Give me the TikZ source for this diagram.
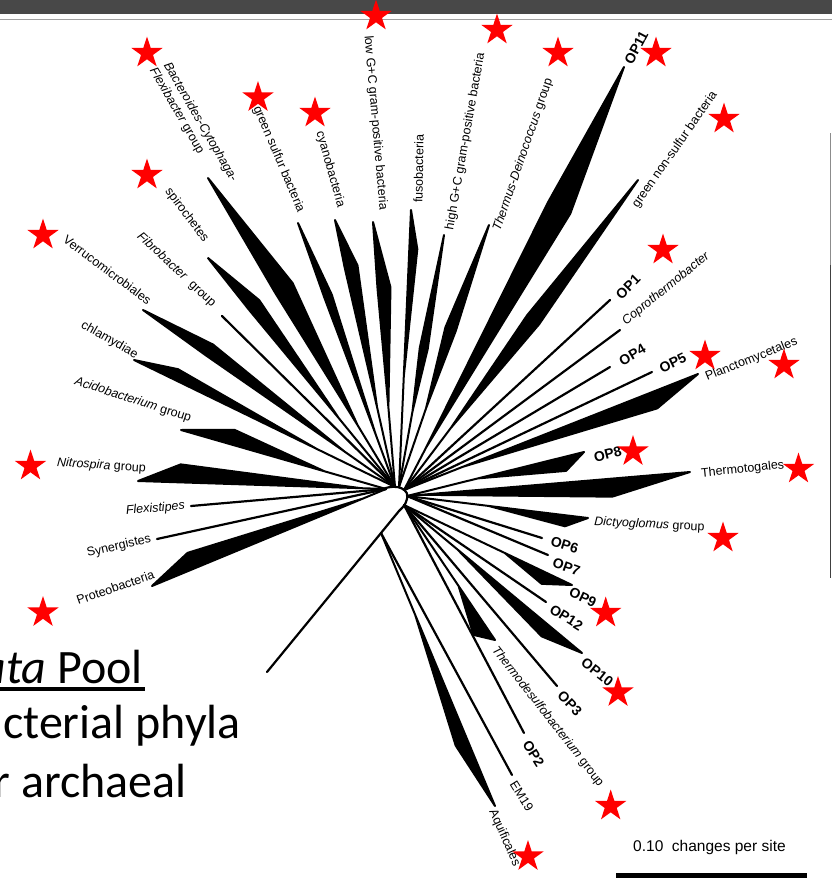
\documentclass[tikz,border=0pt]{standalone}
\usepackage{fontspec}
\setmainfont{Liberation Sans}
\newfontfamily\calibrifont{Carlito}
\usetikzlibrary{calc,shapes.geometric}
\definecolor{hdr}{RGB}{72,72,72}
\definecolor{hdrline}{RGB}{160,160,160}
\definecolor{starred}{RGB}{255,0,0}
% wedge: hub, tip, start-of-widening fraction, shoulder fraction, ccw width, cw width
\newcommand{\wdg}[6]{\filldraw[brwedge] (#1) -- ($(#1)!#3!(#2)$) -- ($(#1)!#4!(#2)!#5pt!90:(#2)$) -- (#2) -- ($(#1)!#4!(#2)!#6pt!-90:(#2)$) -- ($(#1)!#3!(#2)$) -- cycle;}
\begin{document}
\begin{tikzpicture}[x=1pt,y=-1pt,
  brline/.style={line width=2.2pt, line cap=round},
  brwedge/.style={fill=black, draw=black, line width=2pt, line join=round},
  lbl/.style={inner sep=0pt, font=\fontsize{12.5}{14}\selectfont},
  oplbl/.style={inner sep=0pt, font=\fontsize{14}{16}\selectfont\bfseries},
  bigtxt/.style={inner sep=0pt, anchor=base east, font=\calibrifont\fontsize{48}{56}\selectfont},
  redstar/.style={star, star points=5, star point ratio=2.618, minimum size=33pt, inner sep=0pt, fill=starred, draw=none}]
\useasboundingbox (0,0) rectangle (832,878);
% header
\fill[hdr] (0,0) rectangle (832,13.5);
\draw[hdrline, line width=1.2pt] (0,19.5) -- (832,19.5);
% right frame line
\coordinate (fr1) at (830.5,133);
\coordinate (fr2) at (830.5,265);
\coordinate (fr3) at (830.5,578);
\draw[black!45, line width=1.6pt] (fr1) -- (fr2);
\draw[black!75, line width=1.6pt] (fr2) -- (fr3);
% hubs
\coordinate (HL) at (386,489);
\coordinate (HUL) at (395,487);
\coordinate (HT) at (399,487);
\coordinate (HR) at (404,490);
\coordinate (HE) at (407,496);
\coordinate (HB) at (404,505);
\coordinate (J) at (381,533);
\coordinate (L0) at (383,489);
\coordinate (L1) at (407,499);
\coordinate (L2) at (399,511);
% tips
\coordinate (Tverr) at (143,310);
\coordinate (Tfib) at (222,316);
\coordinate (Tspi) at (208,258);
\coordinate (Tbac) at (208,178);
\coordinate (Tgsb) at (298,223);
\coordinate (Tcya) at (335,220);
\coordinate (Tlow) at (373,222);
\coordinate (Tfus) at (411,210);
\coordinate (Thgc) at (444,235);
\coordinate (Tthe) at (489,225);
\coordinate (Top11) at (624,67);
\coordinate (Tgns) at (638,180);
\coordinate (Top1) at (610,300);
\coordinate (Tcop) at (620,330);
\coordinate (Top4) at (610,367);
\coordinate (Top5) at (652,372);
\coordinate (Tpla) at (698,374);
\coordinate (Top8) at (584,452);
\coordinate (Ttmg) at (690,472);
\coordinate (Tdic) at (588,518);
\coordinate (Top6) at (542,538);
\coordinate (Top7) at (548,555);
\coordinate (Top9) at (572,585);
\coordinate (Top12) at (546,602);
\coordinate (Top10) at (582,653);
\coordinate (Top3) at (557,686);
\coordinate (Ttds) at (495,640);
\coordinate (Top2) at (524,733);
\coordinate (Tem) at (512,775);
\coordinate (Taqu) at (495,806);
\coordinate (Tchl) at (134,360);
\coordinate (Taci) at (181,430);
\coordinate (Tnit) at (138,481);
\coordinate (Tflx) at (191,506);
\coordinate (Tsyn) at (157,539);
\coordinate (Tpro) at (152,586);
\coordinate (Troot) at (267,672);
% central loop and root line
\draw[brline] (L0) .. controls (398,483) and (410,490) .. (L1) .. controls (405,505) .. (L2) -- (J) -- (Troot);
% thin branches
\draw[brline] (HUL) -- (Tfib);
\draw[brline] (HR) -- (Top1);
\draw[brline] (HR) -- (Tcop);
\draw[brline] (HR) -- (Top4);
\draw[brline] (HR) -- (Top5);
\draw[brline] (HE) -- (Top6);
\draw[brline] (HE) -- (Top7);
\draw[brline] (HB) -- (Top12);
\draw[brline] (HB) -- (Top3);
\draw[brline] (HB) -- (Top2);
\draw[brline] (J) -- (Tem);
\draw[brline] (HL) -- (Tflx);
\draw[brline] (HL) -- (Tsyn);
% wedges
\wdg{HUL}{Tverr}{0.2}{0.75}{1}{12}
\wdg{HUL}{Tspi}{0.3}{0.78}{1}{13}
\wdg{HUL}{Tbac}{0.2}{0.63}{2}{18}
\wdg{HUL}{Tgsb}{0.2}{0.72}{1}{7}
\wdg{HUL}{Tcya}{0.3}{0.82}{1}{12}
\wdg{HUL}{Tlow}{0.3}{0.75}{1}{12}
\wdg{HT}{Tfus}{0.4}{0.86}{0}{8}
\wdg{HT}{Thgc}{0.3}{0.55}{4}{4}
\wdg{HT}{Tthe}{0.3}{0.6}{8}{3}
\wdg{HR}{Top11}{0.1}{0.675}{5}{20}
\wdg{HR}{Tgns}{0.2}{0.55}{7}{8}
\wdg{HR}{Tpla}{0.2}{0.84}{0}{17}
\wdg{HE}{Top8}{0.4}{0.88}{0}{14}
\wdg{HE}{Ttmg}{0.05}{0.72}{0}{18}
\wdg{HE}{Tdic}{0.45}{0.88}{0}{11}
\wdg{HB}{Top9}{0.6}{0.85}{0}{12}
\wdg{HB}{Top10}{0.3}{0.82}{0}{13}
\wdg{HB}{Ttds}{0.6}{0.9}{0}{15}
\wdg{J}{Taqu}{0.3}{0.76}{0}{13}
\wdg{HUL}{Tchl}{0.3}{0.85}{0}{11}
\wdg{HL}{Taci}{0.3}{0.76}{0}{15}
\wdg{HL}{Tnit}{0.1}{0.83}{0}{18}
\wdg{HL}{Tpro}{0.1}{0.82}{0}{17}
% labels, upper left
\node[lbl, anchor=east, rotate=-37] (lverr) at (150,302) {Verrucomicrobiales};
\node[lbl, anchor=east, rotate=-43] (lfib) at (214,305) {\textit{Fibrobacter}\ \ group};
\node[lbl, anchor=east, rotate=-53] (lspi) at (206,241) {spirochetes};
\node[lbl, anchor=east, rotate=-60] (lbac1) at (234,181) {\textit{Bacteroides-Cytophaga-}};
\node[lbl, anchor=east, rotate=-60] (lbac2) at (201,153) {\textit{Flexibacter} group};
\node[lbl, anchor=east, rotate=-67] (lgsb) at (301,212) {green sulfur bacteria};
\node[lbl, anchor=east, rotate=-74] (lcya) at (341,207) {cyanobacteria};
\node[lbl, anchor=east, rotate=-85] (llow) at (383,210) {low G+C gram-positive bacteria};
% labels, top and right
\node[lbl, anchor=west, rotate=89] (lfus) at (418,203) {fusobacteria};
\node[lbl, anchor=west, rotate=80] (lhgc) at (450,230) {high G+C gram-positive bacteria};
\node[lbl, anchor=west, rotate=71] (lthe) at (497,231) {\textit{Thermus-Deinococcus} group};
\node[oplbl, anchor=west, rotate=62] (lop11) at (628,63) {OP11};
\node[lbl, anchor=west, rotate=55] (lgns) at (635,207) {green non-sulfur bacteria};
\node[oplbl, anchor=west, rotate=45] (lop1) at (618,297) {OP1};
\node[lbl, anchor=west, rotate=39] (lcop) at (624,323) {\textit{Coprothermobacter}};
\node[oplbl, anchor=west, rotate=30] (lop4) at (620,362) {OP4};
\node[oplbl, anchor=west, rotate=26] (lop5) at (660,369) {OP5};
\node[lbl, anchor=west, rotate=22] (lpla) at (706,378) {Planctomycetales};
\node[oplbl, anchor=west, rotate=14] (lop8) at (594,458) {OP8};
\node[lbl, anchor=west, rotate=6] (ltmg) at (701,474) {Thermotogales};
\node[lbl, anchor=west, rotate=-3] (ldic) at (594,522) {\textit{Dictyoglomus} group};
\node[oplbl, anchor=west, rotate=-17] (lop6) at (551,541) {OP6};
\node[oplbl, anchor=west, rotate=-20] (lop7) at (553,562) {OP7};
\node[oplbl, anchor=west, rotate=-25] (lop9) at (570,591) {OP9};
\node[oplbl, anchor=west, rotate=-32] (lop12) at (551,608) {OP12};
\node[oplbl, anchor=west, rotate=-38] (lop10) at (583,661) {OP10};
\node[oplbl, anchor=west, rotate=-46] (lop3) at (560,693) {OP3};
\node[lbl, anchor=west, rotate=-52] (ltds) at (494,648) {\textit{Thermodesulfobacterium} group};
\node[oplbl, anchor=west, rotate=-58] (lop2) at (526,742) {OP2};
\node[lbl, anchor=west, rotate=-58] (lem) at (513,782) {EM19};
\node[lbl, anchor=west, rotate=-66] (laqu) at (492,810) {Aquificales};
% labels, left
\node[lbl, anchor=east, rotate=-30] (lchl) at (137,356) {chlamydiae};
\node[lbl, anchor=east, rotate=-18] (laci) at (191,419) {\textit{Acidobacterium} group};
\node[lbl, anchor=east, rotate=-4] (lnit) at (146,469) {\textit{Nitrospira} group};
\node[lbl, anchor=east, rotate=5] (lflx) at (185,506) {\textit{Flexistipes}};
\node[lbl, anchor=east, rotate=13] (lsyn) at (151,539) {Synergistes};
\node[lbl, anchor=east, rotate=19] (lpro) at (154,574) {Proteobacteria};
% scale bar
\node[inner sep=0pt, anchor=base west, font=\fontsize{15.5}{17}\selectfont] (scl) at (633,851) {0.10\ \ changes per site};
\fill (616,873) rectangle (807,880);
% slide text (cut at the left edge)
\node[bigtxt] (t1) at (143,683) {\textit{ata} Pool};
\draw[line width=3.2pt] (0,689) -- (145,689);
\node[bigtxt] (t2) at (241,738) {cterial phyla};
\node[bigtxt] (t3) at (187,797) {r archaeal};
% stars
\node[redstar] (s1) at (147,53) {};
\node[redstar] (s2) at (258,97.5) {};
\node[redstar] (s3) at (315,113) {};
\node[redstar] (s4) at (376,16) {};
\node[redstar] (s5) at (147,175) {};
\node[redstar] (s6) at (43,235) {};
\node[redstar] (s7) at (497,30) {};
\node[redstar] (s8) at (558,53) {};
\node[redstar] (s9) at (656,53) {};
\node[redstar] (s10) at (724,119) {};
\node[redstar] (s11) at (663,250) {};
\node[redstar] (s12) at (705,356) {};
\node[redstar] (s13) at (784,365) {};
\node[redstar] (s14) at (633,451.5) {};
\node[redstar] (s15) at (798.5,469) {};
\node[redstar] (s16) at (723,538) {};
\node[redstar] (s17) at (605.7,613) {};
\node[redstar] (s18) at (618,692.5) {};
\node[redstar] (s19) at (610.7,806) {};
\node[redstar] (s20) at (528,856.5) {};
\node[redstar] (s21) at (30.5,466) {};
\node[redstar] (s22) at (43,612.5) {};
\end{tikzpicture}
\end{document}
